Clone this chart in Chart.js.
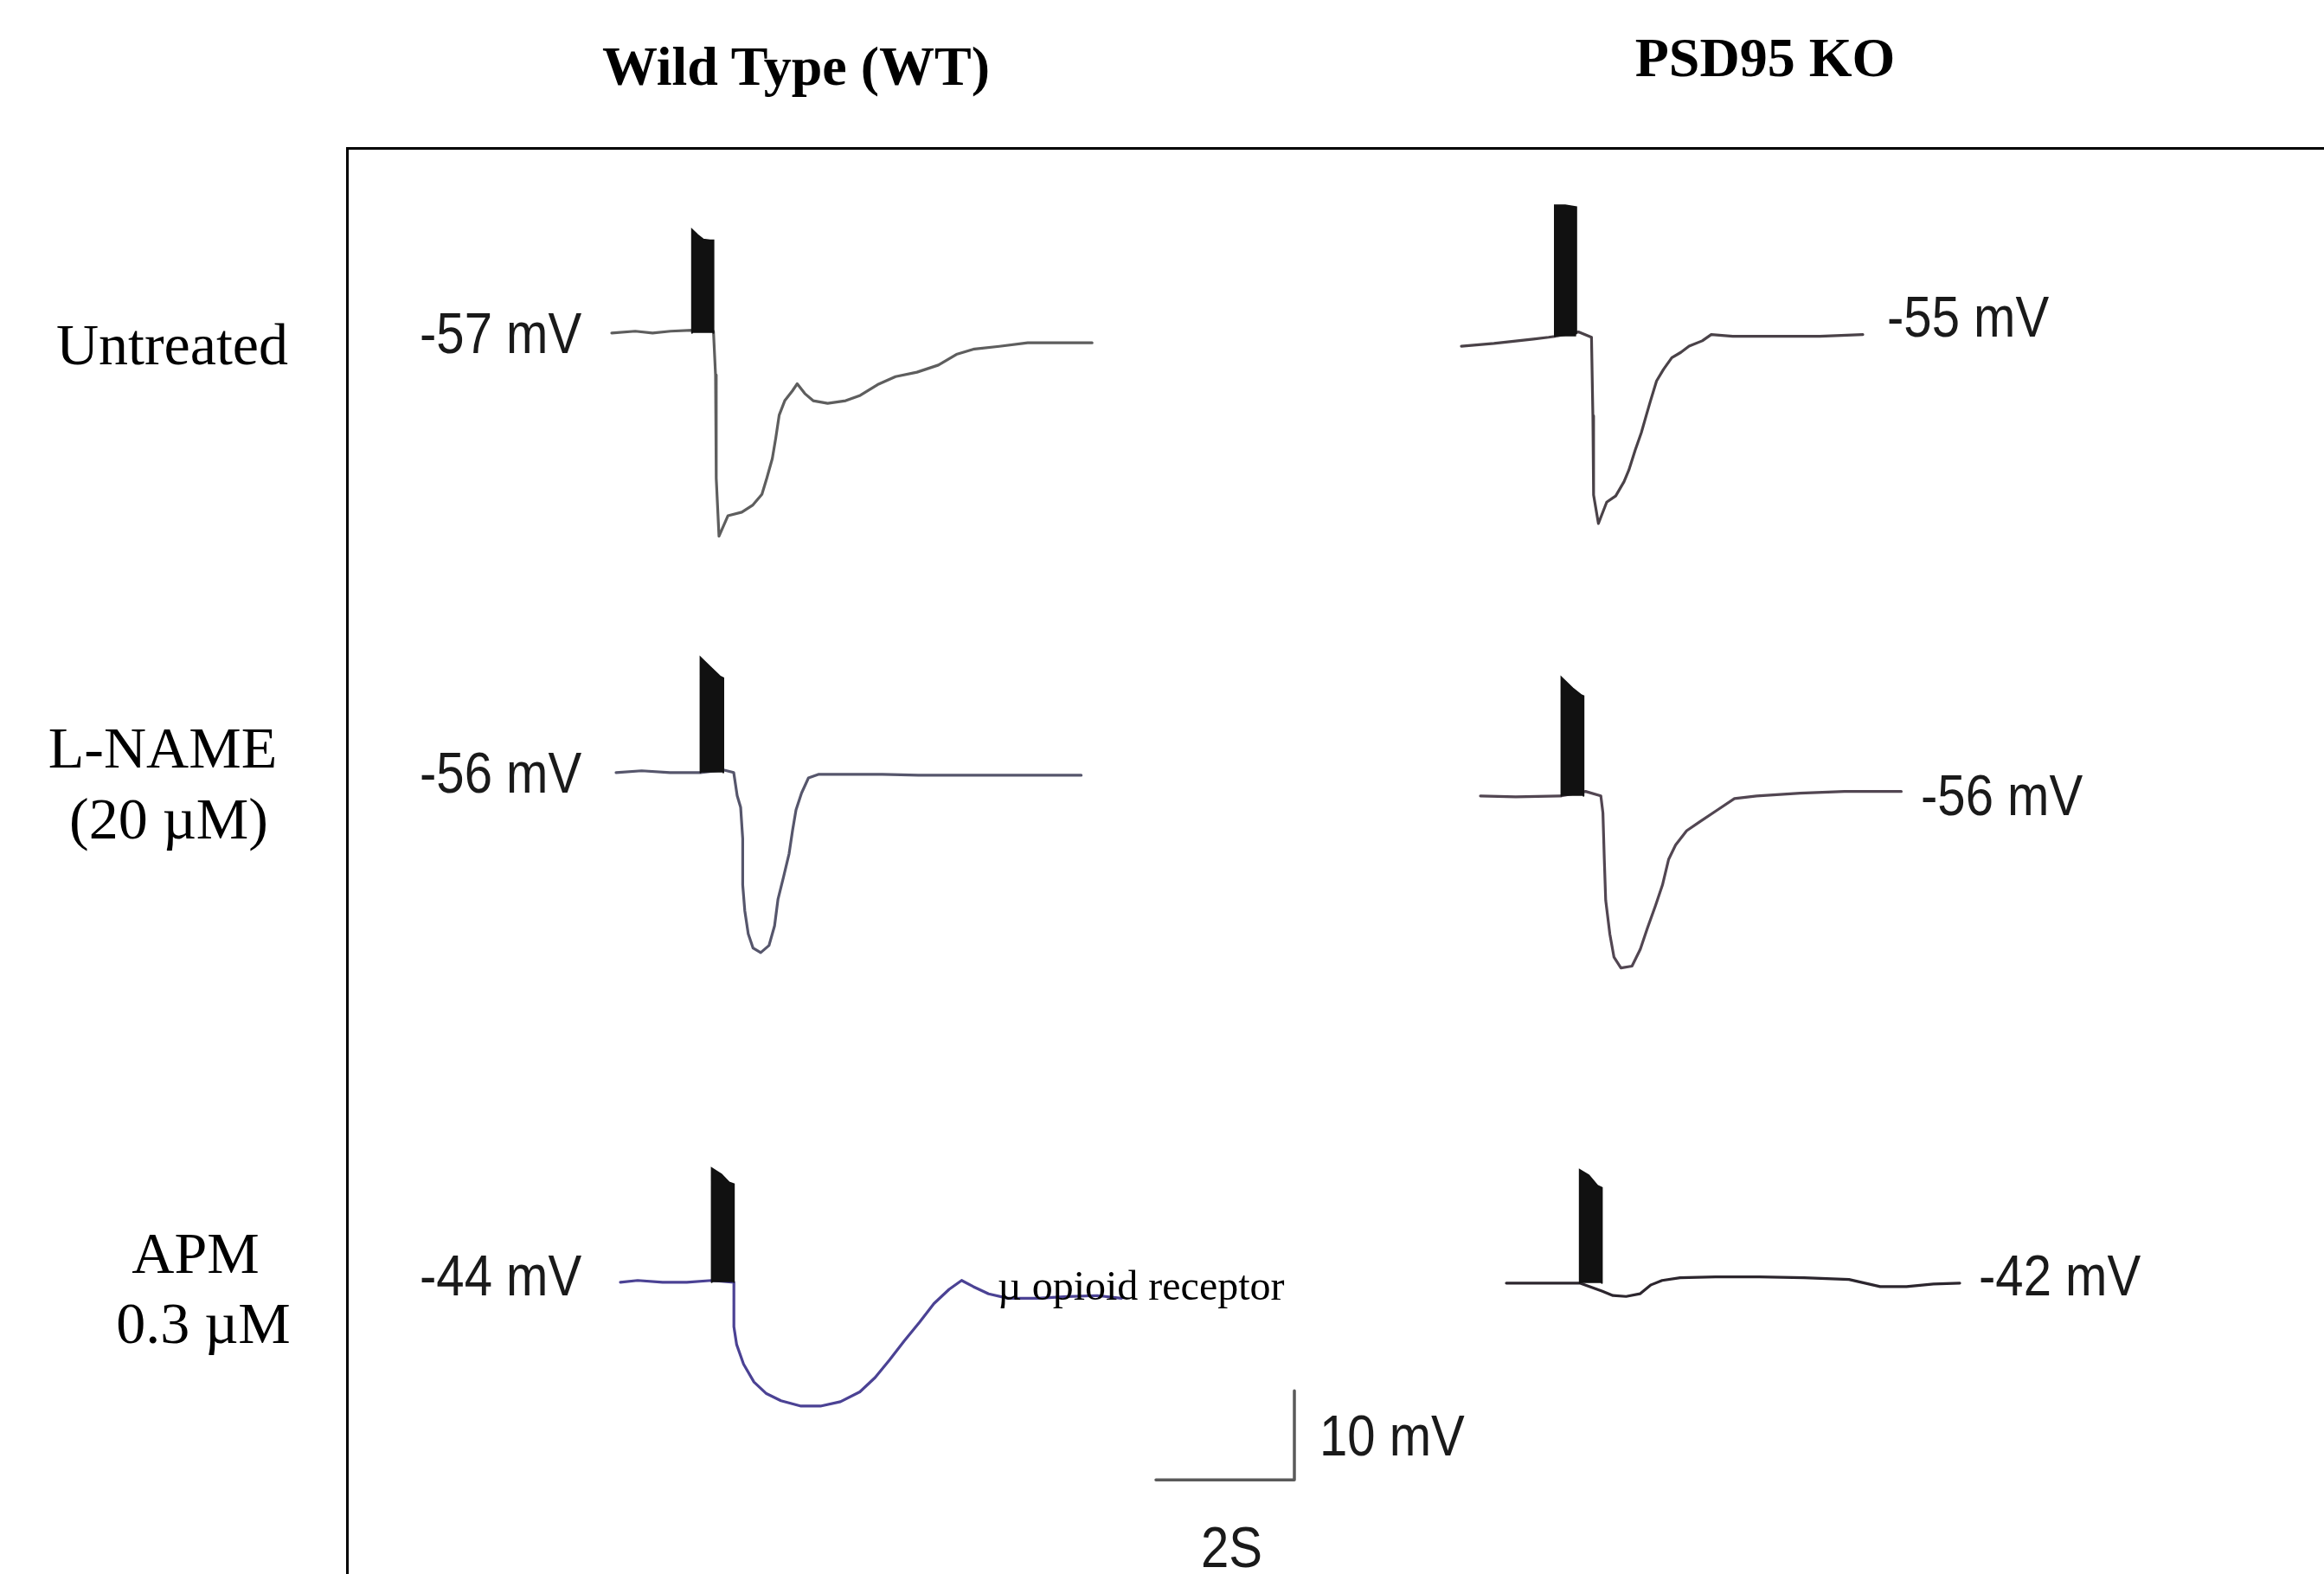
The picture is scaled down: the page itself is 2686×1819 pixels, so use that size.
<!DOCTYPE html>
<html>
<head>
<meta charset="utf-8">
<title>Wild Type vs PSD95 KO</title>
<script src="https://cdn.jsdelivr.net/npm/chart.js@4.4.1/dist/chart.umd.min.js"></script>
<style>
  html, body { margin: 0; padding: 0; background: #fff; }
  #figure { position: relative; width: 2686px; height: 1819px; overflow: hidden; background: #fff; }
  #frame { position: absolute; left: 400px; top: 170px; width: 2400px; height: 1800px;
           border-left: 3px solid #000; border-top: 3px solid #000; }
  canvas { position: absolute; }
  .serif { position: absolute; font-family: "Liberation Serif", "Times New Roman", serif;
           color: #000; white-space: nowrap; line-height: 1; transform: translateX(-50%); }
  .title { font-weight: bold; font-size: 64px; }
  .row { font-size: 68px; }
  .note { font-size: 48px; transform: none; }
  .mv { position: absolute; font-family: "Liberation Sans", Arial, sans-serif; font-size: 66px;
        line-height: 1; color: #1a1a1a; white-space: nowrap; transform: scaleX(0.88); transform-origin: 0 0; }
</style>
</head>
<body>
<div id="figure">
  <div id="frame"></div>
  <div class="serif title" style="left:920px; top:45px;">Wild Type (WT)</div>
  <div class="serif title" style="left:2040px; top:35px;">PSD95 KO</div>
  <div class="serif row" style="left:199px; top:364px;">Untreated</div>
  <div class="serif row" style="left:188px; top:830px;">L-NAME</div>
  <div class="serif row" style="left:195px; top:912px;">(20 µM)</div>
  <div class="serif row" style="left:226px; top:1414px;">APM</div>
  <div class="serif row" style="left:235px; top:1495px;">0.3 µM</div>
</div>
<script>
// time in s, membrane potential in mV
const restingMv = [-57, -55, -56, -56, -44, -42];

const wtUntreatedTime = [0, 0.34, 0.59, 0.85, 1.16, 1.47, 1.50, 1.51, 1.55, 1.68, 1.88, 2.04, 2.17, 2.24, 2.32, 2.37, 2.42, 2.50, 2.61, 2.68, 2.79, 2.91, 3.12, 3.38, 3.59, 3.84, 4.10, 4.41, 4.72, 4.98, 5.24, 5.60, 6.01, 6.53, 6.94];
const wtUntreatedMv = [-57.0, -56.8, -57.0, -56.8, -56.7, -56.8, -61.7, -73.3, -79.8, -77.5, -77.1, -76.3, -75.1, -73.3, -71.1, -68.8, -66.2, -64.6, -63.5, -62.7, -63.8, -64.6, -64.9, -64.6, -64.0, -62.8, -61.9, -61.4, -60.6, -59.4, -58.8, -58.5, -58.1, -58.1, -58.1];
const wtUntreatedStimTime = [1.16, 1.16, 1.24, 1.32, 1.42, 1.47, 1.47];
const wtUntreatedStimMv = [-57.0, -45.4, -46.0, -46.5, -46.6, -46.6, -57.0];

const koUntreatedTime = [0, 0.47, 1.04, 1.26, 1.35, 1.69, 1.88, 1.90, 1.91, 1.98, 2.10, 2.23, 2.35, 2.42, 2.51, 2.60, 2.67, 2.73, 2.82, 2.92, 3.04, 3.17, 3.29, 3.48, 3.61, 3.92, 4.55, 5.18, 5.80];
const koUntreatedMv = [-55.8, -55.5, -55.0, -54.8, -54.7, -54.2, -54.8, -63.6, -72.5, -75.7, -73.3, -72.6, -71.0, -69.7, -67.5, -65.5, -63.6, -62.0, -59.7, -58.4, -57.1, -56.5, -55.8, -55.2, -54.5, -54.7, -54.7, -54.7, -54.5];
const koUntreatedStimTime = [1.35, 1.35, 1.50, 1.66, 1.66];
const koUntreatedStimMv = [-54.7, -40.0, -40.0, -40.2, -54.4];

const wtLnameTime = [0, 0.37, 0.78, 1.22, 1.55, 1.70, 1.75, 1.80, 1.83, 1.83, 1.86, 1.91, 1.98, 2.09, 2.21, 2.29, 2.34, 2.42, 2.50, 2.55, 2.60, 2.68, 2.78, 2.93, 3.34, 3.85, 4.37, 5.39, 6.72];
const wtLnameMv = [-56.0, -55.8, -56.0, -56.0, -55.7, -56.0, -58.6, -59.9, -63.4, -68.6, -71.5, -74.1, -75.7, -76.2, -75.4, -73.2, -70.2, -67.7, -65.1, -62.5, -60.2, -58.3, -56.6, -56.2, -56.2, -56.2, -56.3, -56.3, -56.3];
const wtLnameStimTime = [1.22, 1.22, 1.34, 1.50, 1.55, 1.55];
const wtLnameStimMv = [-56.0, -43.1, -44.0, -45.2, -45.4, -56.0];

const koLnameTime = [0, 0.51, 1.14, 1.17, 1.52, 1.74, 1.77, 1.79, 1.81, 1.87, 1.93, 2.03, 2.19, 2.31, 2.41, 2.53, 2.63, 2.72, 2.82, 2.98, 3.17, 3.42, 3.67, 3.99, 4.62, 5.26, 6.08];
const koLnameMv = [-56.0, -56.1, -56.0, -56.0, -55.5, -56.0, -57.9, -63.1, -67.7, -71.5, -74.1, -75.3, -75.1, -73.2, -70.9, -68.3, -66.0, -63.1, -61.5, -59.9, -58.9, -57.6, -56.3, -56.0, -55.7, -55.5, -55.5];
const koLnameStimTime = [1.17, 1.17, 1.33, 1.46, 1.49, 1.49];
const koLnameStimMv = [-56.0, -42.7, -43.9, -44.7, -44.8, -56.0];

const wtApmTime = [0, 0.25, 0.61, 0.96, 1.32, 1.64, 1.64, 1.68, 1.78, 1.93, 2.11, 2.32, 2.61, 2.89, 3.18, 3.46, 3.68, 3.89, 4.10, 4.32, 4.53, 4.75, 4.93, 5.10, 5.32, 5.60, 6.03, 6.46, 6.89, 7.24];
const wtApmMv = [-44.0, -43.8, -44.0, -44.0, -43.8, -44.0, -49.0, -51.0, -53.2, -55.2, -56.5, -57.3, -57.9, -57.9, -57.4, -56.3, -54.7, -52.7, -50.6, -48.5, -46.4, -44.8, -43.8, -44.5, -45.3, -45.8, -45.8, -45.6, -45.5, -45.8];
const wtApmStimTime = [1.32, 1.32, 1.46, 1.57, 1.64, 1.64];
const wtApmStimMv = [-44.0, -31.2, -31.9, -32.8, -33.0, -44.0];

const koApmTime = [0, 0.45, 1.06, 1.38, 1.54, 1.73, 1.93, 2.09, 2.25, 2.51, 3.02, 3.66, 4.30, 4.95, 5.40, 5.78, 6.17, 6.55];
const koApmMv = [-42.0, -42.0, -42.0, -42.9, -43.4, -43.5, -43.2, -42.2, -41.7, -41.4, -41.3, -41.3, -41.4, -41.6, -42.4, -42.4, -42.1, -42.0];
const koApmStimTime = [1.06, 1.06, 1.19, 1.32, 1.38, 1.38];
const koApmStimMv = [-42.0, -29.3, -29.9, -31.1, -31.3, -42.0];

// scale bar: 2 s, 10 mV
const scaleBarTime = [0, 2, 2];
const scaleBarMv = [0, 0, 10];

const PX_PER_S = 80;
const PX_PER_MV = 10.3;

// where t = 0 and the resting potential sit on the page, plus trace colour and label spot
const panels = [
    { time: wtUntreatedTime, mv: wtUntreatedMv, stimTime: wtUntreatedStimTime, stimMv: wtUntreatedStimMv,
      x0: 707, yRest: 385, color: '#5e5e5e', labelLeft: 485, labelTop: 352 },
    { time: koUntreatedTime, mv: koUntreatedMv, stimTime: koUntreatedStimTime, stimMv: koUntreatedStimMv,
      x0: 1689, yRest: 392, color: '#4a4248', labelLeft: 2181, labelTop: 333 },
    { time: wtLnameTime, mv: wtLnameMv, stimTime: wtLnameStimTime, stimMv: wtLnameStimMv,
      x0: 712, yRest: 893, color: '#56566c', labelLeft: 485, labelTop: 860 },
    { time: koLnameTime, mv: koLnameMv, stimTime: koLnameStimTime, stimMv: koLnameStimMv,
      x0: 1711, yRest: 920, color: '#524652', labelLeft: 2220, labelTop: 886 },
    { time: wtApmTime, mv: wtApmMv, stimTime: wtApmStimTime, stimMv: wtApmStimMv,
      x0: 717, yRest: 1482, color: '#4b4294', labelLeft: 485, labelTop: 1441 },
    { time: koApmTime, mv: koApmMv, stimTime: koApmStimTime, stimMv: koApmStimMv,
      x0: 1741, yRest: 1483, color: '#2c262e', labelLeft: 2287, labelTop: 1441 }
];

const figure = document.getElementById('figure');

function toPoints(xs, ys) {
    return xs.map((x, i) => ({ x: x, y: ys[i] }));
}

// one small chart, scales fixed so that every panel has the same s/px and mV/px
function drawPanel(left, top, width, height, xMin, yMax, datasets) {
    const canvas = document.createElement('canvas');
    canvas.width = width;
    canvas.height = height;
    canvas.style.left = left + 'px';
    canvas.style.top = top + 'px';
    figure.appendChild(canvas);
    return new Chart(canvas.getContext('2d'), {
        type: 'line',
        data: { datasets: datasets },
        options: {
            responsive: false,
            animation: false,
            devicePixelRatio: 1,
            layout: { padding: 0 },
            plugins: { legend: { display: false }, tooltip: { enabled: false } },
            elements: { point: { radius: 0 }, line: { tension: 0, borderJoinStyle: 'round', borderCapStyle: 'round' } },
            scales: {
                x: { type: 'linear', display: false, min: xMin, max: xMin + width / PX_PER_S },
                y: { type: 'linear', display: false, min: yMax - height / PX_PER_MV, max: yMax }
            }
        }
    });
}

panels.forEach((p, i) => {
    const rest = restingMv[i];
    drawPanel(p.x0 - 0.5 * PX_PER_S, p.yRest - 16 * PX_PER_MV, 720, 536, -0.5, rest + 16, [
        {
            data: toPoints(p.stimTime, p.stimMv),
            borderColor: '#111',
            backgroundColor: '#111',
            borderWidth: 2,
            borderJoinStyle: 'miter',
            fill: { value: p.stimMv[0] }
        },
        {
            data: toPoints(p.time, p.mv),
            borderColor: p.color,
            borderWidth: 3.2,
            fill: false
        }
    ]);
    const lbl = document.createElement('div');
    lbl.className = 'mv';
    lbl.style.left = p.labelLeft + 'px';
    lbl.style.top = p.labelTop + 'px';
    lbl.textContent = rest + ' mV';
    figure.appendChild(lbl);
});

drawPanel(1336 - 0.25 * PX_PER_S, 1710 - 11 * PX_PER_MV, 200, 124, -0.25, 11, [
    { data: toPoints(scaleBarTime, scaleBarMv), borderColor: '#5a5a5a', borderWidth: 3.5, fill: false }
]);

const extraLabels = [
    { cls: 'mv', text: scaleBarMv[2] + ' mV', left: 1525, top: 1626 },
    { cls: 'mv', text: scaleBarTime[1] + 'S', left: 1388, top: 1755 },
    { cls: 'serif note', text: 'µ opioid receptor', left: 1153, top: 1462 }
];
extraLabels.forEach(l => {
    const d = document.createElement('div');
    d.className = l.cls;
    d.style.left = l.left + 'px';
    d.style.top = l.top + 'px';
    d.textContent = l.text;
    figure.appendChild(d);
});
</script>
</body>
</html>
